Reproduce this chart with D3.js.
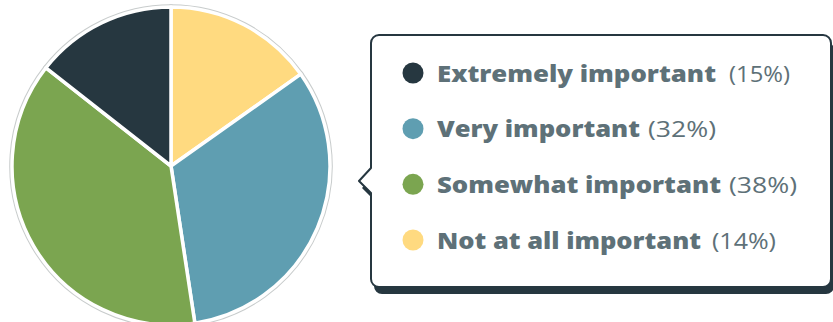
<!DOCTYPE html>
<html><head><meta charset="utf-8">
<script src="https://cdn.jsdelivr.net/npm/d3@7"></script>
<style>html,body{margin:0;padding:0;background:#fff;}svg{display:block;}</style>
</head><body><svg id="c" width="833" height="322"></svg>
<script>
// Legend order
const categories = ["Extremely important", "Very important", "Somewhat important", "Not at all important"];
const percentLabels = ["(15%)", "(32%)", "(38%)", "(14%)"];
// slice sizes (percent of circle)
const sliceValues = [14.4, 32.4, 38.0, 15.2];
const colors = ["#263740", "#5f9eb1", "#7ba550", "#ffda80"];
// clockwise order of slices starting at 12 o'clock
const pieOrder = [3, 1, 2, 0];

const svg = d3.select("#c");
const cx = 171, cy = 166, R = 159;

const pie = d3.pie().sort(null).value(i => sliceValues[i]);
const arcs = pie(pieOrder);
const arc = d3.arc().innerRadius(0).outerRadius(R);
const g = svg.append("g").attr("transform", `translate(${cx},${cy})`);
g.selectAll("path.o").data(arcs).join("path").attr("class","o")
  .attr("d", arc).attr("fill", d => colors[d.data])
  .attr("stroke", "#c8cccc").attr("stroke-width", 5.5).attr("stroke-linejoin","round");
g.selectAll("path.i").data(arcs).join("path").attr("class","i")
  .attr("d", arc).attr("fill", d => colors[d.data])
  .attr("stroke", "#ffffff").attr("stroke-width", 3.5).attr("stroke-linejoin","round");

// Legend box
const bx = 371, by = 35, bw = 460, bh = 252, rr = 8;
const tipY = 181, tipX = 359, nTop = 168, nBot = 193;
function boxPath(ox, oy) {
  const p = d3.path();
  const x0 = bx + ox, y0 = by + oy, x1 = x0 + bw, y1 = y0 + bh;
  p.moveTo(x0 + rr, y0);
  p.lineTo(x1 - rr, y0); p.arcTo(x1, y0, x1, y0 + rr, rr);
  p.lineTo(x1, y1 - rr); p.arcTo(x1, y1, x1 - rr, y1, rr);
  p.lineTo(x0 + rr, y1); p.arcTo(x0, y1, x0, y1 - rr, rr);
  p.lineTo(x0, nBot + oy); p.lineTo(tipX + ox, tipY + oy); p.lineTo(x0, nTop + oy);
  p.lineTo(x0, y0 + rr); p.arcTo(x0, y0, x0 + rr, y0, rr);
  p.closePath();
  return p.toString();
}
svg.append("path").attr("d", boxPath(3, 7)).attr("fill", "#263740");
svg.append("path").attr("d", boxPath(0, 0)).attr("fill", "#fff")
  .attr("stroke", "#263740").attr("stroke-width", 2).attr("stroke-linejoin","round");

const rowY = d3.scalePoint().domain(d3.range(categories.length)).range([74, 241]);
const labelWidths = [279, 203, 284, 264];
const pctX = [729, 648, 729, 712];
const pctW = [61, 68, 68, 64];
const font = "'Open Sans','Lato',sans-serif";
const rows = svg.append("g").selectAll("g").data(d3.range(categories.length)).join("g")
  .attr("transform", i => `translate(0,${rowY(i)})`);
rows.append("circle").attr("cx", 413).attr("cy", -1).attr("r", 10.5).attr("fill", i => colors[i]);
rows.append("text").attr("x", 437).attr("y", 7.5).text(i => categories[i])
  .attr("font-family", font).attr("font-weight", 800).attr("font-size", 22)
  .attr("fill", "#5e7178").attr("textLength", i => labelWidths[i]).attr("lengthAdjust", "spacingAndGlyphs");
rows.append("text").attr("x", i => pctX[i]).attr("y", 7.5).text(i => percentLabels[i])
  .attr("font-family", font).attr("font-weight", 400).attr("font-size", 22)
  .attr("fill", "#5e7178").attr("textLength", i => pctW[i]).attr("lengthAdjust", "spacingAndGlyphs");
</script></body></html>
